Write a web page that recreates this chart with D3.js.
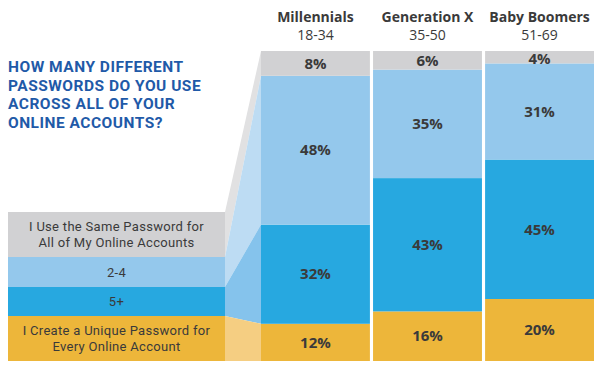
<!DOCTYPE html>
<html>
<head>
<meta charset="utf-8">
<script src="https://cdn.jsdelivr.net/npm/d3@7"></script>
<style>
  body { margin: 0; background: #fff; }
  text { font-family: "Open Sans", sans-serif; }
  text.title, text.legend { font-family: Roboto, sans-serif; }
</style>
</head>
<body>
<div class="canvas"></div>
<script>
// data
const generations = ['Millennials', 'Generation X', 'Baby Boomers'];
const ageRanges = ['18-34', '35-50', '51-69'];
const answers = ['same', 'twoToFour', 'fivePlus', 'unique'];
const sameValues = [8, 6, 4];
const twoToFourValues = [48, 35, 31];
const fivePlusValues = [32, 43, 45];
const uniqueValues = [12, 16, 20];
const legendLabels = [
    ['I Use the Same Password for', 'All of My Online Accounts'],
    ['2-4'],
    ['5+'],
    ['I Create a Unique Password for', 'Every Online Account']
];
const titleLines = ['HOW MANY DIFFERENT', 'PASSWORDS DO YOU USE', 'ACROSS ALL OF YOUR', 'ONLINE ACCOUNTS?'];

const colors = ['#d1d1d3', '#94c8ec', '#27a8e0', '#edb63a'];
const paleColors = ['#e1e1e2', '#bddcf3', '#85c3ec', '#f5ce82'];

const width = 600, height = 374;
const chartTop = 51, chartBottom = 361;

const svg = d3.select('.canvas')
    .append('svg')
        .attr('width', width)
        .attr('height', height);

// table for stacking, bottom segment first
const rows = generations.map((g, i) => ({
    name: g,
    same: sameValues[i],
    twoToFour: twoToFourValues[i],
    fivePlus: fivePlusValues[i],
    unique: uniqueValues[i]
}));

const stack = d3.stack().keys(answers.slice().reverse());
const series = stack(rows); // [unique, fivePlus, twoToFour, same]

const x = d3.scaleBand()
    .domain(generations)
    .range([261, 594])
    .paddingInner(0.028)
    .paddingOuter(0);

const y = d3.scaleLinear()
    .domain([0, 100])
    .range([chartBottom, chartTop]);

// legend bands on the left (top to bottom)
const legendX0 = 8, legendX1 = 225;
const legendEdges = [212, 257, 287, 316, 361];

// connectors from legend to first column
const first = generations[0];
answers.forEach((key, i) => {
    const s = series.find(d => d.key === key)[0];
    const pts = [
        [legendX1, legendEdges[i]],
        [x(first), y(s[1])],
        [x(first), y(s[0])],
        [legendX1, legendEdges[i + 1]]
    ];
    svg.append('polygon')
        .attr('points', pts.map(p => p.join(',')).join(' '))
        .attr('fill', paleColors[i]);
});

// legend boxes
answers.forEach((key, i) => {
    svg.append('rect')
        .attr('x', legendX0)
        .attr('y', legendEdges[i])
        .attr('width', legendX1 - legendX0)
        .attr('height', legendEdges[i + 1] - legendEdges[i])
        .attr('fill', colors[i]);
    const lines = legendLabels[i];
    const mid = (legendEdges[i] + legendEdges[i + 1]) / 2;
    const lbl = svg.append('text')
        .attr('class', 'legend')
        .attr('text-anchor', 'middle')
        .attr('font-size', 13)
        .attr('letter-spacing', 0.3)
        .attr('fill', '#3a3a3a');
    lines.forEach((ln, j) => {
        lbl.append('tspan')
            .attr('x', (legendX0 + legendX1) / 2)
            .attr('y', mid + (j - (lines.length - 1) / 2) * 16)
            .attr('dy', '0.35em')
            .text(ln);
    });
});

// stacked columns
const layers = svg.selectAll('g.layer')
    .data(series)
    .enter()
    .append('g')
        .attr('class', 'layer')
        .attr('fill', d => colors[answers.indexOf(d.key)]);

layers.selectAll('rect')
    .data(d => d)
    .enter()
    .append('rect')
        .attr('x', d => x(d.data.name))
        .attr('y', d => y(d[1]))
        .attr('width', x.bandwidth())
        .attr('height', d => y(d[0]) - y(d[1]));

layers.selectAll('text')
    .data(d => d.map(v => Object.assign({ key: d.key }, v)))
    .enter()
    .append('text')
        .attr('x', d => x(d.data.name) + x.bandwidth() / 2)
        .attr('y', d => Math.max((y(d[0]) + y(d[1])) / 2, chartTop + 8))
        .attr('dy', '0.35em')
        .attr('text-anchor', 'middle')
        .attr('font-size', 15)
        .attr('font-weight', 'bold')
        .attr('fill', '#3a3a3a')
        .text(d => d.data[d.key] + '%');

// column headers
generations.forEach((g, i) => {
    const cx = x(g) + x.bandwidth() / 2;
    svg.append('text')
        .attr('x', cx)
        .attr('y', 22)
        .attr('text-anchor', 'middle')
        .attr('font-size', 14)
        .attr('font-weight', 'bold')
        .attr('fill', '#3a3a3a')
        .text(g);
    svg.append('text')
        .attr('x', cx)
        .attr('y', 40)
        .attr('text-anchor', 'middle')
        .attr('font-size', 14)
        .attr('fill', '#3a3a3a')
        .text(ageRanges[i]);
});

// title, one text block
const title = svg.append('text')
    .attr('class', 'title')
    .attr('font-size', 15.5)
    .attr('font-weight', 'bold')
    .attr('letter-spacing', 0.5)
    .attr('fill', '#1f5aa8');
titleLines.forEach((t, i) => {
    title.append('tspan')
        .attr('x', 8)
        .attr('y', 72 + i * 18.7)
        .text(t);
});
</script>
</body>
</html>
